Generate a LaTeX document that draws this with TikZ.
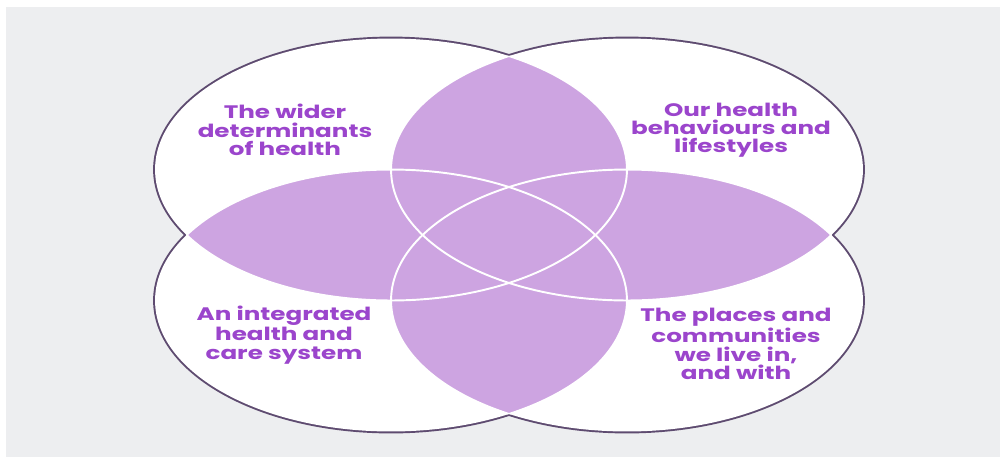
\documentclass[tikz,border=0pt]{standalone}
\usepackage{fontspec}
\setmainfont{Poppins}[FakeStretch=1.36]
\definecolor{bg}{HTML}{EDEEF0}
\definecolor{petal}{HTML}{CDA4E1}
\definecolor{rim}{HTML}{5E4B70}
\definecolor{txt}{HTML}{9B45CC}
\begin{document}
\begin{tikzpicture}[x=0.02cm,y=-0.02cm,
  lab/.style={align=center, text=txt, inner sep=0pt,
    font=\bfseries\fontsize{10.3}{10.4}\selectfont},
  ell/.style={x radius=4.72cm, y radius=2.62cm}]
\useasboundingbox (0,0) rectangle (1000,457);
\fill[white] (0,0) rectangle (1000,457);
\fill[bg] (6,7) rectangle (1000,457);
% outer rim
\foreach \cx/\cy in {391/169.5,627/169.5,391/300.5,627/300.5}
  \draw[rim, line width=2.2pt] (\cx,\cy) ellipse [ell];
\foreach \cx/\cy in {391/169.5,627/169.5,391/300.5,627/300.5}
  \fill[white] (\cx,\cy) ellipse [ell];
% overlaps
\foreach \ax/\ay/\bx/\by in {391/169.5/627/169.5, 391/169.5/391/300.5, 391/169.5/627/300.5, 627/169.5/391/300.5, 627/169.5/627/300.5, 391/300.5/627/300.5}{
  \begin{scope}
    \clip (\ax,\ay) ellipse [ell];
    \fill[petal] (\bx,\by) ellipse [ell];
  \end{scope}
}
% inner white lines
\foreach \cx/\cy/\px/\py/\qx/\qy/\rx/\ry in {
  391/169.5/627/169.5/391/300.5/627/300.5,
  627/169.5/391/169.5/391/300.5/627/300.5,
  391/300.5/391/169.5/627/169.5/627/300.5,
  627/300.5/391/169.5/627/169.5/391/300.5}{
  \begin{scope}
    \clip (\px,\py) ellipse [ell] (\qx,\qy) ellipse [ell] (\rx,\ry) ellipse [ell];
    \draw[white, line width=1.1pt] (\cx,\cy) ellipse [ell];
  \end{scope}
}
\node[lab] (wider) at (285,130) {The wider\\determinants\\of health};
\node[lab] (behav) at (731,130) {Our health\\behaviours and\\lifestyles};
\node[lab] (care) at (284,335) {An integrated\\health and\\care system};
\node[lab] (places) at (736,344) {The places and\\communities\\we live in,\\and with};
\end{tikzpicture}
\end{document}
